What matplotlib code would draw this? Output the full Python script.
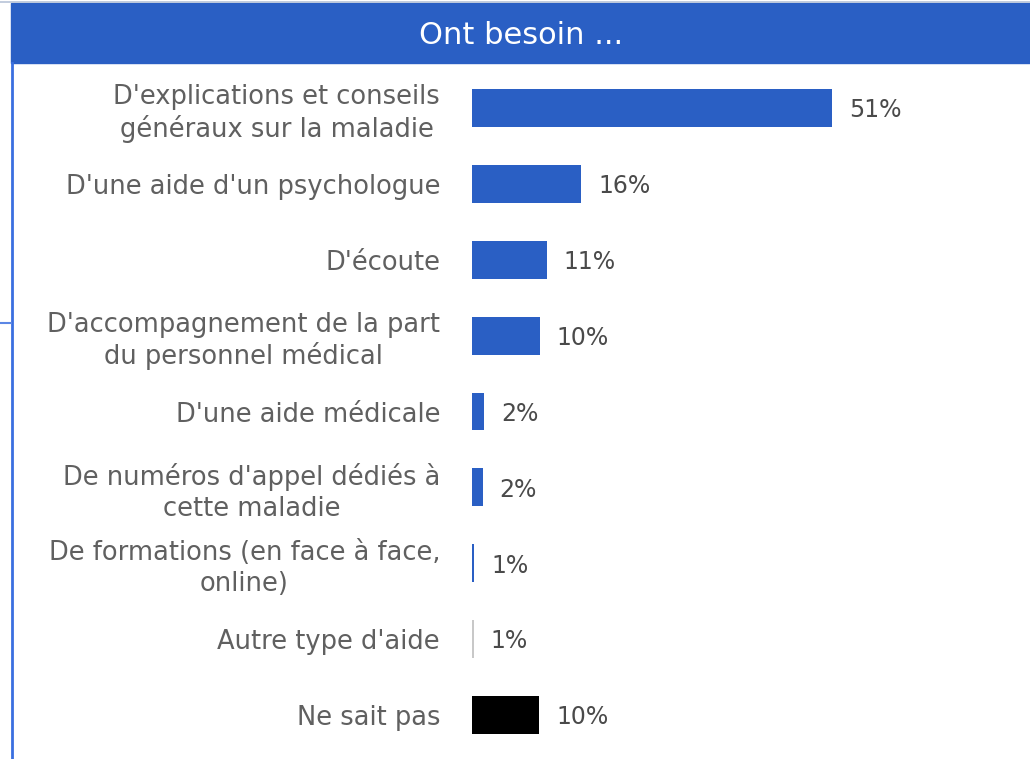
import matplotlib
matplotlib.use("Agg")
import matplotlib.pyplot as plt
from matplotlib.patches import Rectangle
from matplotlib.lines import Line2D

plt.rcParams['font.family'] = ['DejaVu Sans']

categories = [
    "D'explications et conseils\ngénéraux sur la maladie",
    "D'une aide d'un psychologue",
    "D'écoute",
    "D'accompagnement de la part\ndu personnel médical",
    "D'une aide médicale",
    "De numéros d'appel dédiés à\ncette maladie",
    "De formations (en face à face,\nonline)",
    "Autre type d'aide",
    "Ne sait pas",
]
values = [51, 15.5, 10.6, 9.6, 1.7, 1.5, 0.35, 0.25, 9.5]
value_labels = ["51%", "16%", "11%", "10%", "2%", "2%", "1%", "1%", "10%"]
bar_colors = ["#2a5fc4"] * 7 + ["#c8c8c8", "#000000"]
title = "Ont besoin ..."

W, H = 1030, 759
fig = plt.figure(figsize=(W / 100, H / 100), dpi=100)

# header band + left rule
fig.patches.append(Rectangle((11 / W, 1 - 63 / H), 1 - 11 / W, 60 / H,
                             transform=fig.transFigure, color="#2a5fc4", zorder=0))
fig.lines.append(Line2D([0, 1], [1 - 2 / H, 1 - 2 / H], transform=fig.transFigure,
                        color="#b8c4d8", lw=1.2))
fig.lines.append(Line2D([11.5 / W, 11.5 / W], [0, 1 - 63 / H], transform=fig.transFigure,
                        color="#3a6fe0", lw=2))
fig.lines.append(Line2D([0, 11 / W], [1 - 323 / H, 1 - 323 / H], transform=fig.transFigure,
                        color="#5b86e5", lw=1.5))
fig.text(521 / W, 1 - 35 / H, title, color="white", fontsize=22, ha="center", va="center")

ax = fig.add_axes([472 / W, 6 / H, 1 - 472 / W, 683 / H])
pos = list(range(len(categories)))
ax.barh(pos, values, height=0.5, color=bar_colors)
for p, v, lab in zip(pos, values, value_labels):
    ax.text(v + 2.4, p + 0.03, lab, va="center", ha="left", fontsize=17, color="#4a4a4a")

ax.set_xlim(0, (W - 472) / 7.06)
ax.set_ylim(len(categories) - 0.5, -0.5)
ax.set_yticks(pos)
ax.set_yticklabels(categories, fontsize=18.5, color="#606060", linespacing=1.22)
for t in ax.get_yticklabels():
    t.set_multialignment("center")
ax.tick_params(axis="y", length=0, pad=23)
ax.set_xticks([])
for s in ax.spines.values():
    s.set_visible(False)

fig.savefig("out.png", dpi=100)
